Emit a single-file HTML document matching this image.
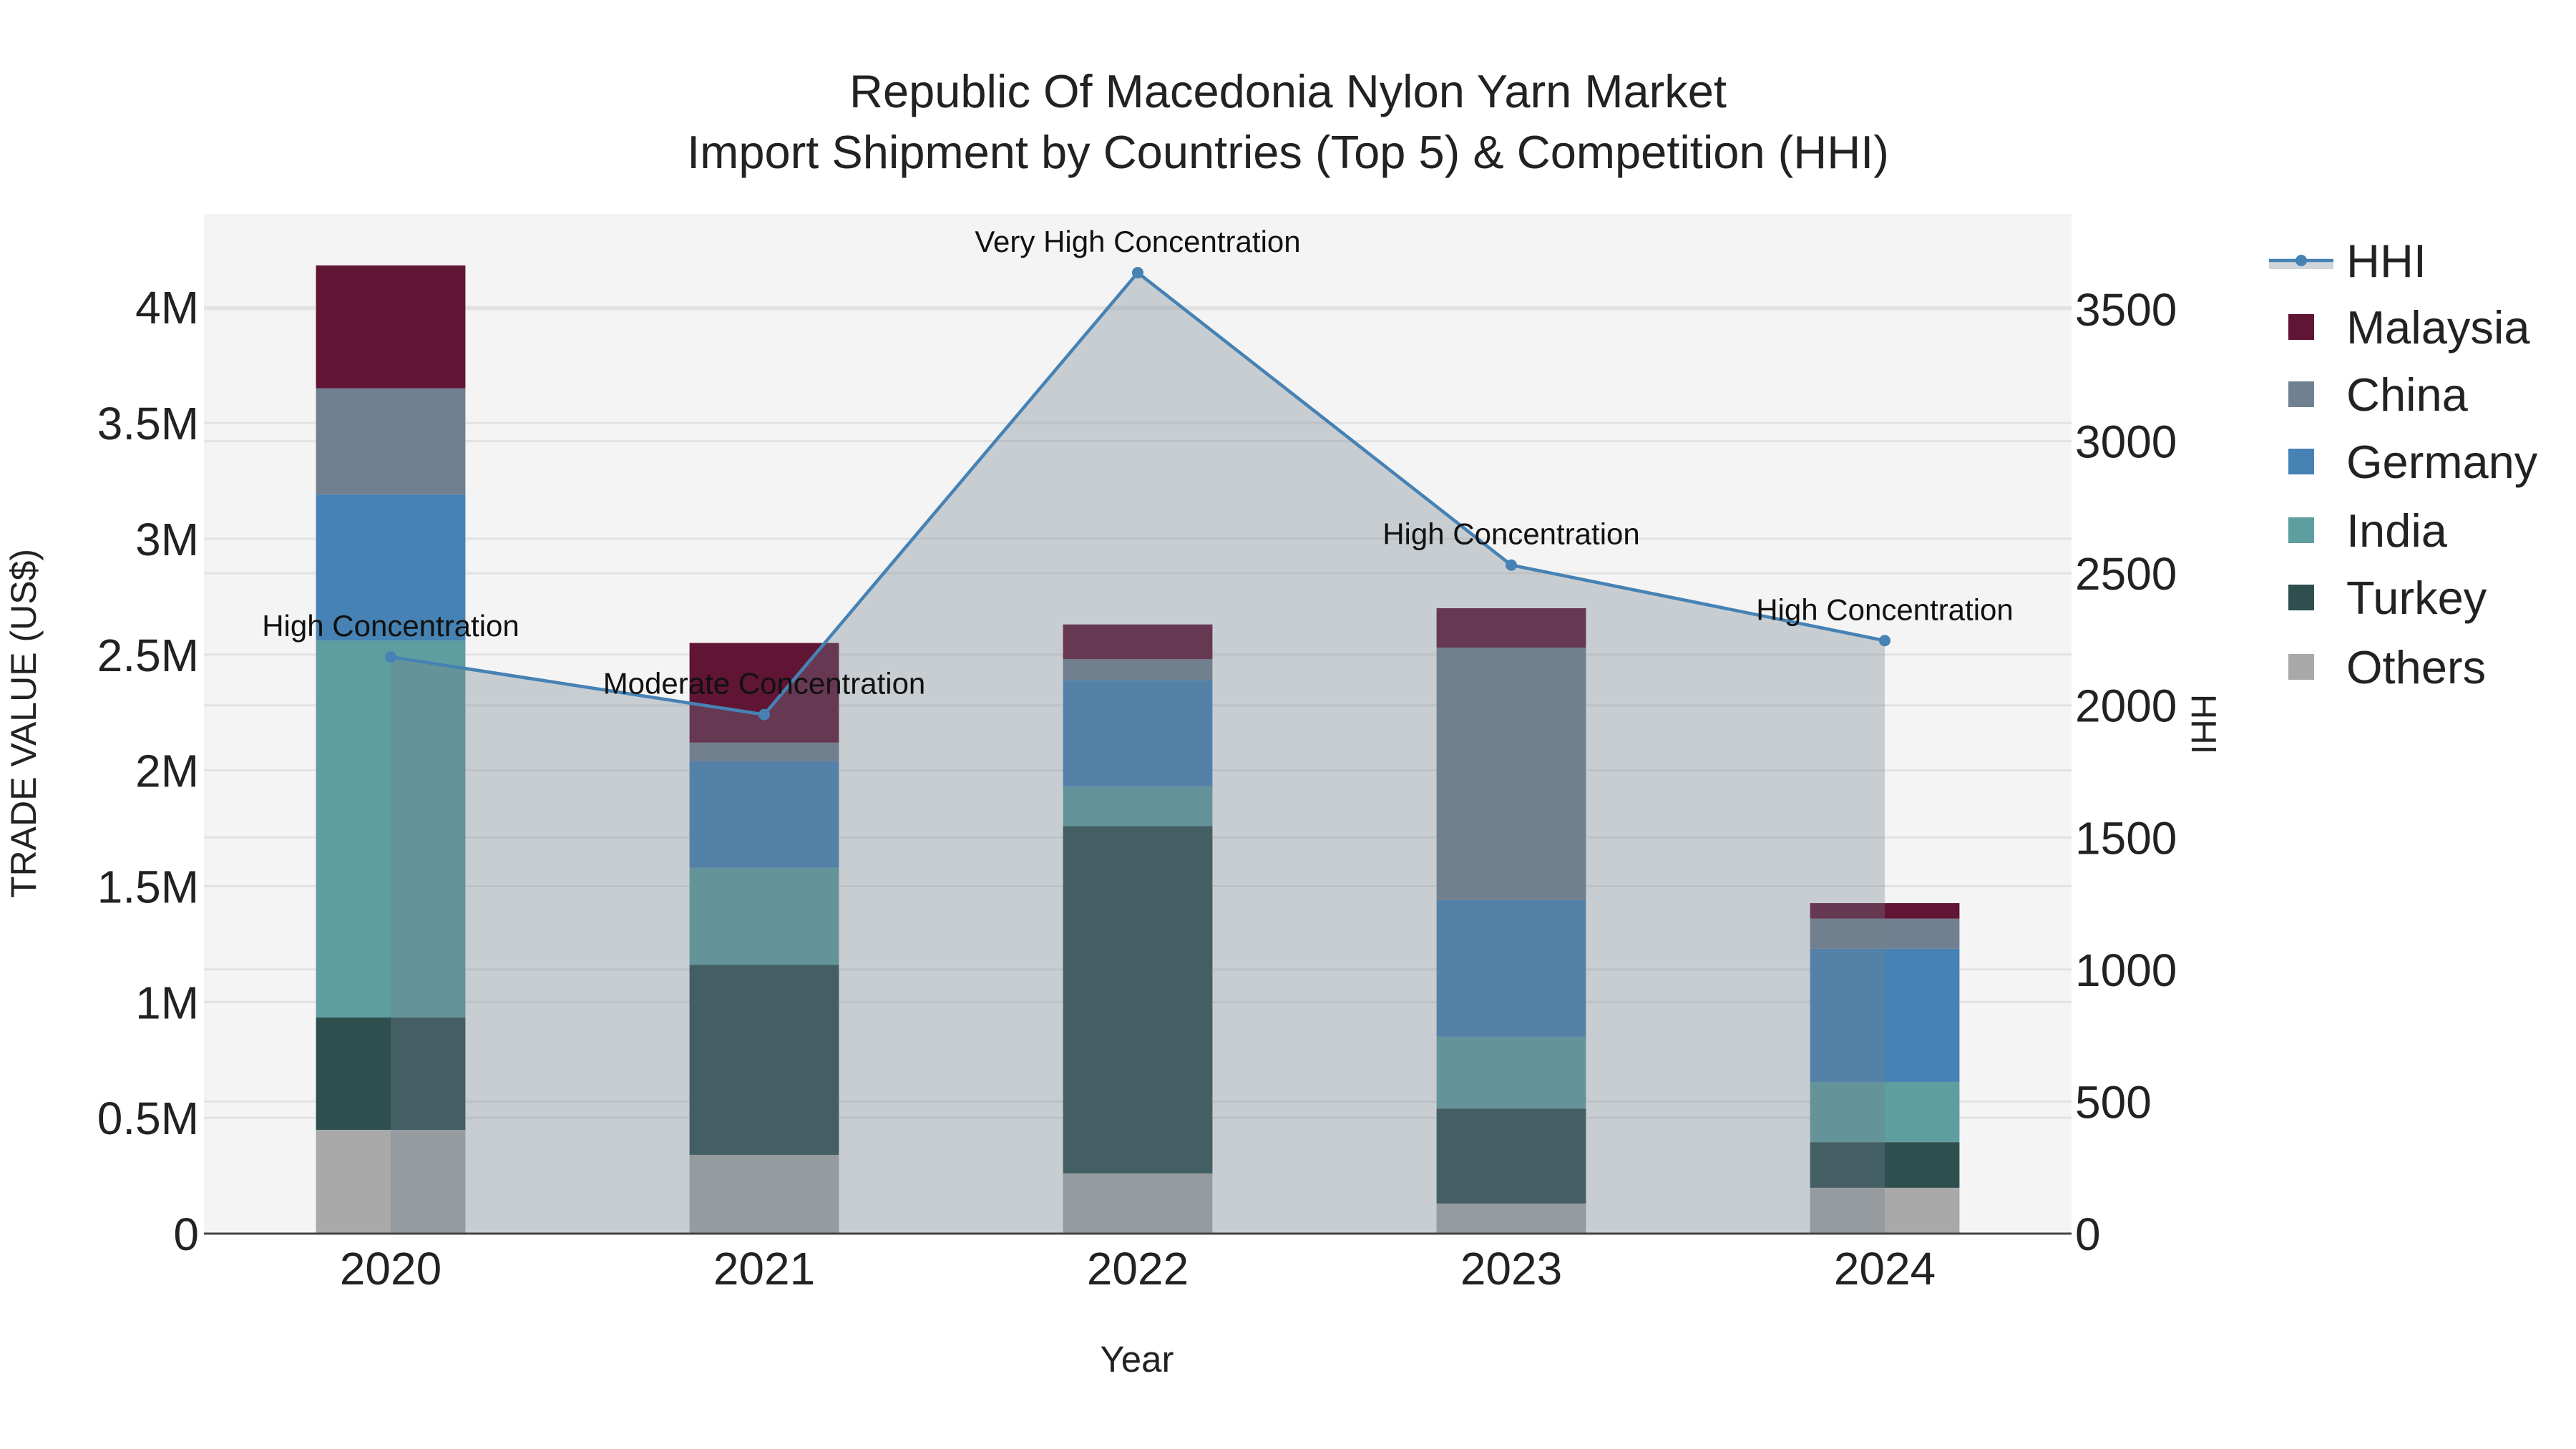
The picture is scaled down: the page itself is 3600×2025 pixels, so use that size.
<!DOCTYPE html>
<html><head><meta charset="utf-8">
<style>
html,body{margin:0;padding:0;background:#fff;}
svg{display:block;font-family:"Liberation Sans",Arial,sans-serif;}
</style></head>
<body>
<svg id="chart" width="3600" height="2025" viewBox="0 0 3600 2025" xmlns="http://www.w3.org/2000/svg">
<rect x="0" y="0" width="3600" height="2025" fill="#fff"/>
<text x="1800" y="150" font-size="65" text-anchor="middle" fill="#222">Republic Of Macedonia Nylon Yarn Market</text>
<text x="1800" y="235" font-size="65" text-anchor="middle" fill="#222">Import Shipment by Countries (Top 5) &amp; Competition (HHI)</text>
<rect x="285" y="299" width="2610" height="1425" fill="#f4f4f4"/>
<g id="grid"></g>
<g id="bars"></g>
<g id="hhi"></g>
<line x1="285" y1="1724" x2="2895" y2="1724" stroke="#444" stroke-width="3"/>
<g id="ticks"></g>
<text x="1589" y="1917" font-size="51" text-anchor="middle" fill="#222">Year</text>
<text transform="translate(50,1011) rotate(-90)" font-size="50" text-anchor="middle" fill="#222">TRADE VALUE (US$)</text>
<text transform="translate(3063,1012) rotate(90)" font-size="49" text-anchor="middle" fill="#222">HHI</text>
<g id="legend"></g>
</svg>
<script>
const years = ["2020","2021","2022","2023","2024"];
const seriesNames = ["Others","Turkey","India","Germany","China","Malaysia"];
const seriesColors = ["#a9a9a9","#2f4f4f","#5f9ea0","#4682b4","#708090","#611535"];
const others   = [0.448, 0.34, 0.26, 0.13, 0.198];
const turkey   = [0.485, 0.82, 1.50, 0.41, 0.197];
const india    = [1.627, 0.42, 0.17, 0.31, 0.26];
const germany  = [0.63, 0.46, 0.46, 0.59, 0.575];
const china    = [0.46, 0.08, 0.09, 1.09, 0.13];
const malaysia = [0.53, 0.43, 0.15, 0.17, 0.067];
const hhi = [2183, 1965, 3638, 2531, 2245];
const hhiLabels = ["High Concentration","Moderate Concentration","Very High Concentration","High Concentration","High Concentration"];
const yTicks = [0, 0.5, 1, 1.5, 2, 2.5, 3, 3.5, 4];
const yTickLabels = ["0","0.5M","1M","1.5M","2M","2.5M","3M","3.5M","4M"];
const y2Ticks = [0, 500, 1000, 1500, 2000, 2500, 3000, 3500];

const NS = "http://www.w3.org/2000/svg";
const L = 285, R = 2895, T = 299, B = 1724;
const band = (R - L) / years.length;
const xc = i => L + band * (i + 0.5);
const yL = v => B - v * 323.7;
const yR = v => B - v * (1292 / 3500);
function mk(tag, attrs, parent) {
  const e = document.createElementNS(NS, tag);
  for (const k in attrs) e.setAttribute(k, attrs[k]);
  parent.appendChild(e);
  return e;
}
const grid = document.getElementById('grid');
yTicks.forEach(v => {
  const ln = mk('line', {x1: L, x2: R, y1: yL(v), y2: yL(v), stroke: '#e2e2e2', 'stroke-width': 3}, grid);
  
  
});
y2Ticks.forEach(v => {
  const ln = mk('line', {x1: L, x2: R, y1: yR(v), y2: yR(v), stroke: '#e2e2e2', 'stroke-width': 3}, grid);
  
  
});
const bars = document.getElementById('bars');
const allSeries = [others, turkey, india, germany, china, malaysia];
const bw = band * 0.4;
years.forEach((yr, i) => {
  let base = 0;
  allSeries.forEach((s, k) => {
    const v = s[i];
    const r = mk('rect', {x: xc(i) - bw / 2, y: yL(base + v), width: bw, height: yL(base) - yL(base + v), fill: seriesColors[k]}, bars);
    
    
    base += v;
  });
});
const g = document.getElementById('hhi');
let pts = hhi.map((v, i) => xc(i) + ',' + yR(v));
const area = mk('polygon', {points: xc(0) + ',' + B + ' ' + pts.join(' ') + ' ' + xc(hhi.length - 1) + ',' + B, fill: 'rgba(112,128,144,0.33)'}, g);


const line = mk('polyline', {points: pts.join(' '), fill: 'none', stroke: '#4682b4', 'stroke-width': 4.6}, g);


hhi.forEach((v, i) => {
  const c = mk('circle', {cx: xc(i), cy: yR(v), r: 8, fill: '#4682b4'}, g);
  
  
  const t = mk('text', {x: xc(i), y: yR(v) - 29, 'font-size': 42, 'text-anchor': 'middle', fill: '#111'}, g);
  t.textContent = hhiLabels[i];
  
  
});
const ticks = document.getElementById('ticks');
years.forEach((yr, i) => {
  const t = mk('text', {x: xc(i), y: 1795, 'font-size': 64, 'text-anchor': 'middle', fill: '#222'}, ticks);
  t.textContent = yr;
  
  
});
yTicks.forEach((v, i) => {
  const t = mk('text', {x: 278, y: yL(v) + 23, 'font-size': 64, 'text-anchor': 'end', fill: '#222'}, ticks);
  t.textContent = yTickLabels[i];
  
  
});
y2Ticks.forEach(v => {
  const t = mk('text', {x: 2900, y: yR(v) + 23, 'font-size': 64, 'text-anchor': 'start', fill: '#222'}, ticks);
  t.textContent = String(v);
  
  
});
const lg = document.getElementById('legend');
const rowY = [364, 457, 551, 645, 741, 835, 932];
const hl = mk('rect', {x: 3171, y: rowY[0], width: 90, height: 12, fill: 'rgba(112,128,144,0.33)'}, lg);


const hline = mk('line', {x1: 3171, x2: 3261, y1: rowY[0], y2: rowY[0], stroke: '#4682b4', 'stroke-width': 4.6}, lg);


const hdot = mk('circle', {cx: 3216, cy: rowY[0], r: 8, fill: '#4682b4'}, lg);


const ht = mk('text', {x: 3279, y: rowY[0] + 23, 'font-size': 65, fill: '#222'}, lg);
ht.textContent = 'HHI';


const legOrder = [5, 4, 3, 2, 1, 0];
legOrder.forEach((k, j) => {
  const y = rowY[j + 1];
  const s = mk('rect', {x: 3198, y: y - 18, width: 36, height: 36, fill: seriesColors[k]}, lg);
  
  
  const t = mk('text', {x: 3279, y: y + 23, 'font-size': 65, fill: '#222'}, lg);
  t.textContent = seriesNames[k];
  
  
});
</script>
</body></html>
